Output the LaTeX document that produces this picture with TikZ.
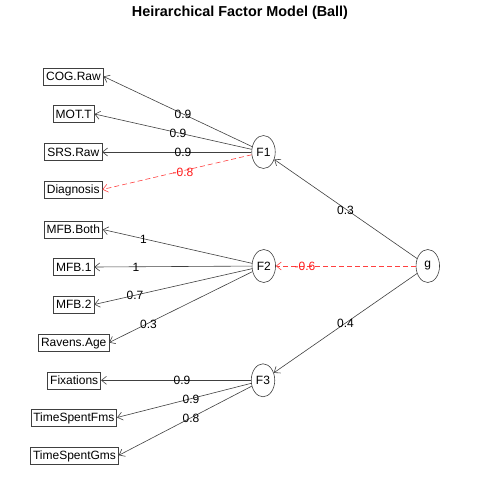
\documentclass[tikz,border=0pt]{standalone}
\usepackage{fontspec}
\setmainfont{Liberation Sans}
\usetikzlibrary{shapes.geometric,arrows.meta}
\begin{document}
\begin{tikzpicture}[x=1pt,y=-1pt,
  obs/.style={draw=black!75,line width=0.6pt,rectangle,inner xsep=2.5pt,inner ysep=0pt,minimum height=17pt,font=\fontsize{12}{12}\selectfont,text height=8.8pt,text depth=0.5pt},
  lat/.style={draw=black!75,line width=0.6pt,ellipse,inner sep=0pt,minimum width=23.5pt,minimum height=33pt,font=\fontsize{12}{12}\selectfont},
  ld/.style={draw=black!75,line width=0.6pt,-{Straight Barb[length=5pt,width=8pt]}},
  neg/.style={draw=red!75,line width=0.6pt,dash pattern=on 5pt off 3pt,-{Straight Barb[length=5pt,width=8pt]}},
  lab/.style={font=\fontsize{12}{12}\selectfont,inner sep=0pt},
  nlab/.style={lab,text=red!90}]
\useasboundingbox (0,0) rectangle (480,480);
\node[font=\fontsize{14.4}{14.4}\selectfont\bfseries] (title) at (240,13) {Heirarchical Factor Model (Ball)};
% observed
\node[obs] (cog) at (73.5,76.5) {COG.Raw};
\node[obs] (mot) at (73.7,114) {MOT.T};
\node[obs] (srs) at (73.3,152) {SRS.Raw};
\node[obs] (dia) at (73.2,189.5) {Diagnosis};
\node[obs] (mfbb) at (73.3,229.5) {MFB.Both};
\node[obs] (mfb1) at (73.8,267) {MFB.1};
\node[obs] (mfb2) at (73.8,304.5) {MFB.2};
\node[obs] (rav) at (73.7,342.5) {Ravens.Age};
\node[obs] (fix) at (74.2,380.3) {Fixations};
\node[obs] (tsf) at (73.8,417.5) {TimeSpentFms};
\node[obs] (tsg) at (74.5,455.3) {TimeSpentGms};
% latent
\node[lat] (F1) at (263.5,152) {F1};
\node[lat] (F2) at (263.8,266) {F2};
\node[lat] (F3) at (263,380.3) {F3};
\node[lat] (g) at (427.8,266) {g};
% loadings
\draw[ld] (F1) -- (cog.east);
\draw[ld] (F1) -- (mot.east);
\draw[ld] (F1) -- (srs.east);
\draw[neg] (F1) -- (dia.east);
\draw[ld] (F2) -- (mfbb.east);
\draw[ld] (F2) -- (mfb1.east);
\draw[ld] (F2) -- (mfb2.east);
\draw[ld] (F2) -- (rav.east);
\draw[ld] (F3) -- (fix.east);
\draw[ld] (F3) -- (tsf.east);
\draw[ld] (F3) -- (tsg.east);
\draw[ld] (g) -- (F1);
\draw[neg] (g) -- (F2);
\draw[ld] (g) -- (F3);
% labels
\node[lab] (l1) at (183,114) {0.9};
\node[lab] (l2) at (178,133.5) {0.9};
\node[lab] (l3) at (183,152) {0.9};
\node[nlab] (l4) at (183,172) {-0.8};
\node[lab] (l5) at (143.5,239.5) {1};
\node[lab] (l6) at (136,267) {1};
\node[lab] (l7) at (135,295) {0.7};
\node[lab] (l8) at (148.5,324) {0.3};
\node[lab] (l9) at (182,380.3) {0.9};
\node[lab] (l10) at (191,399) {0.9};
\node[lab] (l11) at (191,418) {0.8};
\node[lab] (l12) at (345.5,210) {0.3};
\node[nlab] (l13) at (305,266.7) {-0.6};
\node[lab] (l14) at (345.5,323) {0.4};
\end{tikzpicture}
\end{document}
